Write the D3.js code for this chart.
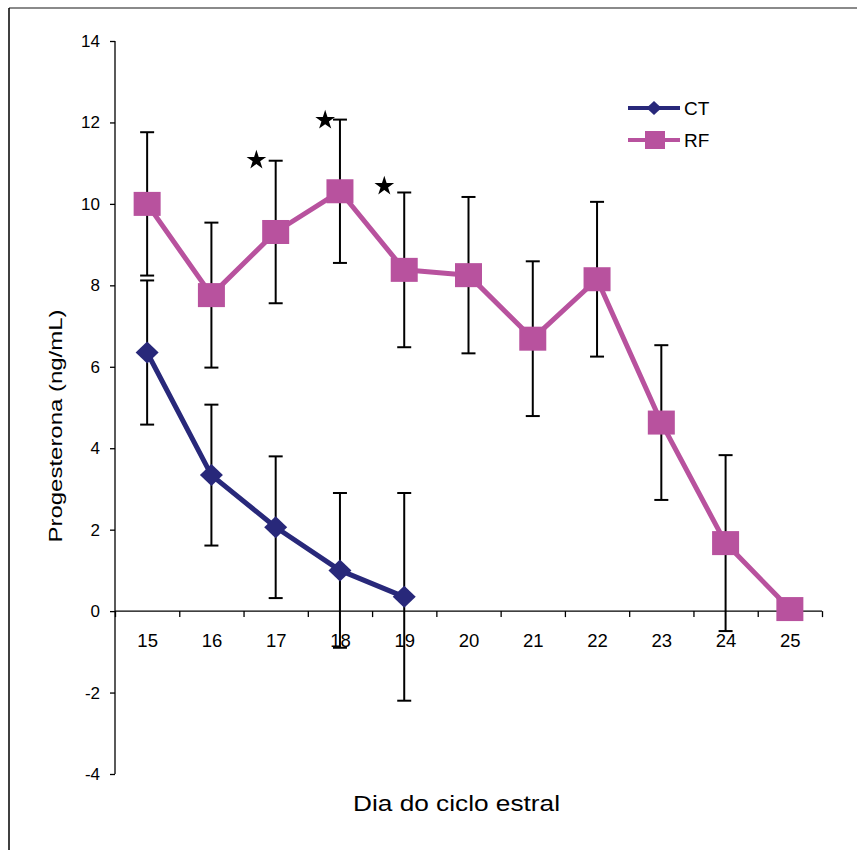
<!DOCTYPE html>
<html>
<head>
<meta charset="utf-8">
<script src="https://cdn.jsdelivr.net/npm/d3@7"></script>
<style>
html,body{margin:0;padding:0;background:#fff;}
svg{display:block;}
text{font-family:"Liberation Sans",Arial,Helvetica,sans-serif;fill:#000;}
</style>
</head>
<body>
<svg id="chart" width="857" height="850"></svg>
<script>
// ---- data ----
const days = [15,16,17,18,19,20,21,22,23,24,25];
const ctDays = [15,16,17,18,19];
const ctMean = [6.35,3.34,2.06,1.0,0.35];
const ctErr  = [1.77,1.73,1.74,1.9,2.55];
const rfMean = [10.0,7.76,9.31,10.31,8.38,8.25,6.69,8.15,4.63,1.67,0.05];
const rfErr  = [1.76,1.78,1.75,1.76,1.9,1.92,1.9,1.9,1.9,2.16,0];
const starDays = [16.7,17.77,18.69];
const starVals = [11.1,12.08,10.46];
const yTicks = [-4,-2,0,2,4,6,8,10,12,14];
const seriesNames = ["CT","RF"];
const xTitle = "Dia do ciclo estral";
const yTitle = "Progesterona (ng/mL)";

const ctColor = "#28287a";
const rfColor = "#b8529e";

const svg = d3.select("#chart");

// frame
svg.append("line").attr("x1",9).attr("x2",857).attr("y1",8).attr("y2",8)
  .attr("stroke","#8a8a8a").attr("stroke-width",2);
svg.append("line").attr("x1",9).attr("x2",9).attr("y1",8).attr("y2",850)
  .attr("stroke","#000").attr("stroke-width",1.5);

const x = d3.scaleLinear().domain([14.5,25.5]).range([115,822]);
const y = d3.scaleLinear().domain([-4,14]).range([774,41]);

// y axis
const yAxis = svg.append("g").attr("transform","translate(115,0)")
  .call(d3.axisLeft(y).tickValues(yTicks).tickSize(5).tickPadding(10).tickFormat(d3.format("d")));
yAxis.select(".domain").attr("stroke","#000").attr("stroke-width",1.3).attr("d","M0,41V774");
yAxis.selectAll(".tick line").attr("stroke","#000").attr("stroke-width",1.3);
yAxis.selectAll(".tick text").attr("font-size",17).attr("font-family","Liberation Sans, Arial, sans-serif").attr("fill","#000")
  .text(d => d < 0 ? "-" + Math.abs(d) : d);

// x axis (ticks at category boundaries)
const bounds = d3.range(14.5,25.51,1);
const xAxis = svg.append("g").attr("transform",`translate(0,${y(0)})`)
  .call(d3.axisBottom(x).tickValues(bounds).tickSize(6).tickFormat(""));
xAxis.select(".domain").attr("stroke","#000").attr("stroke-width",1.3).attr("d",`M115,0H822`);
xAxis.selectAll(".tick line").attr("stroke","#000").attr("stroke-width",1.3);

const xLab = svg.append("g").attr("transform",`translate(0,${y(0)})`)
  .call(d3.axisBottom(x).tickValues(days).tickSize(0).tickPadding(23).tickFormat(d3.format("d")));
xLab.select(".domain").remove();
xLab.selectAll(".tick text").attr("font-size",18.5).attr("font-family","Liberation Sans, Arial, sans-serif").attr("fill","#000");

// titles
svg.append("text").attr("x",456.5).attr("y",811).attr("text-anchor","middle")
  .attr("font-size",22).attr("textLength",207).attr("lengthAdjust","spacingAndGlyphs").text(xTitle);
svg.append("text").attr("transform","translate(62,426) rotate(-90)").attr("text-anchor","middle")
  .attr("font-size",19).attr("textLength",233).attr("lengthAdjust","spacingAndGlyphs").text(yTitle);

// error bars
function errBars(ds, means, errs){
  const g = svg.append("g");
  ds.forEach((d,i)=>{
    if(!errs[i]) return;
    const cx = x(d), t = y(means[i]+errs[i]), b = y(means[i]-errs[i]);
    g.append("line").attr("x1",cx).attr("x2",cx).attr("y1",t).attr("y2",b).attr("stroke","#000").attr("stroke-width",2);
    [t,b].forEach(yy=>g.append("line").attr("x1",cx-7).attr("x2",cx+7).attr("y1",yy).attr("y2",yy).attr("stroke","#000").attr("stroke-width",2));
  });
}
errBars(days, rfMean, rfErr);
errBars(ctDays, ctMean, ctErr);

// lines
const line = d3.line().x(d=>x(d[0])).y(d=>y(d[1]));
svg.append("path").datum(days.map((d,i)=>[d,rfMean[i]])).attr("d",line)
  .attr("fill","none").attr("stroke",rfColor).attr("stroke-width",5).attr("stroke-linejoin","round");
svg.append("path").datum(ctDays.map((d,i)=>[d,ctMean[i]])).attr("d",line)
  .attr("fill","none").attr("stroke",ctColor).attr("stroke-width",5).attr("stroke-linejoin","round");

// markers
svg.append("g").selectAll("rect").data(days).join("rect")
  .attr("x",d=>x(d)-13.5).attr("y",(d,i)=>y(rfMean[i])-12).attr("width",27).attr("height",24)
  .attr("fill",rfColor);
svg.append("g").selectAll("path").data(ctDays).join("path")
  .attr("transform",(d,i)=>`translate(${x(d)},${y(ctMean[i])})`)
  .attr("d","M0,-11L11.5,0L0,11L-11.5,0Z").attr("fill",ctColor);

// stars
svg.append("g").selectAll("path").data(starDays).join("path")
  .attr("transform",(d,i)=>`translate(${x(d)},${y(starVals[i])+1})`)
  .attr("d",d3.symbol(d3.symbolStar,120)).attr("fill","#000");

// legend
const lg = svg.append("g");
lg.append("line").attr("x1",628).attr("x2",680).attr("y1",108).attr("y2",108).attr("stroke",ctColor).attr("stroke-width",4);
lg.append("path").attr("transform","translate(654,108)").attr("d","M0,-7L7.5,0L0,7L-7.5,0Z").attr("fill",ctColor);
lg.append("text").attr("x",684).attr("y",115).attr("font-size",19).text(seriesNames[0]);
lg.append("line").attr("x1",628).attr("x2",680).attr("y1",140).attr("y2",140).attr("stroke",rfColor).attr("stroke-width",4);
lg.append("rect").attr("x",645).attr("y",131).attr("width",20).attr("height",18).attr("fill",rfColor);
lg.append("text").attr("x",684).attr("y",147).attr("font-size",19).text(seriesNames[1]);
</script>
</body>
</html>
